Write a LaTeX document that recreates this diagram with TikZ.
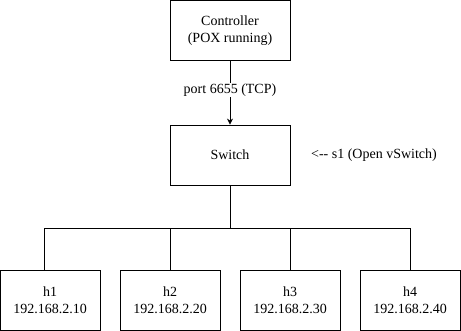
\documentclass[tikz,border=0pt]{standalone}
\usepackage{fontspec}
\setmainfont{Liberation Serif}
\usetikzlibrary{arrows.meta}
\begin{document}
\begin{tikzpicture}[x=1pt,y=-1pt,
  box/.style={draw,line width=0.8pt,minimum width=120pt,minimum height=60pt,
    align=center,inner sep=0pt,font=\fontsize{14}{16.5}\selectfont},
  hostbox/.style={box,minimum width=100pt},
  link/.style={line width=0.8pt},
  lbl/.style={font=\fontsize{14}{16.5}\selectfont,inner sep=1pt}]
\useasboundingbox (0,0) rectangle (461,331);
% nodes
\node[box] (ctrl) at (230,30.5) {Controller\\(POX running)};
\node[box] (sw) at (230,155) {Switch};
\node[hostbox] (h1) at (50,300) {h1\\192.168.2.10};
\node[hostbox] (h2) at (170,300) {h2\\192.168.2.20};
\node[hostbox] (h3) at (290,300) {h3\\192.168.2.30};
\node[hostbox] (h4) at (410,300) {h4\\192.168.2.40};
\node[lbl] (note) at (374,155) {<-{}- s1 (Open vSwitch)};
% controller to switch
\draw[link,-{Stealth[length=6pt,width=6pt]}] (ctrl) -- (sw);
\node[lbl,fill=white] (port) at (230,90) {port 6655 (TCP)};
% switch to hosts over the bus
\coordinate (bus) at (230,228);
\draw[link] (sw) -- (bus) -| ([xshift=-6pt]h1.north);
\draw[link] (bus) -| (h2.north);
\draw[link] (bus) -| (h3.north);
\draw[link] (bus) -| (h4.north);
\end{tikzpicture}
\end{document}
